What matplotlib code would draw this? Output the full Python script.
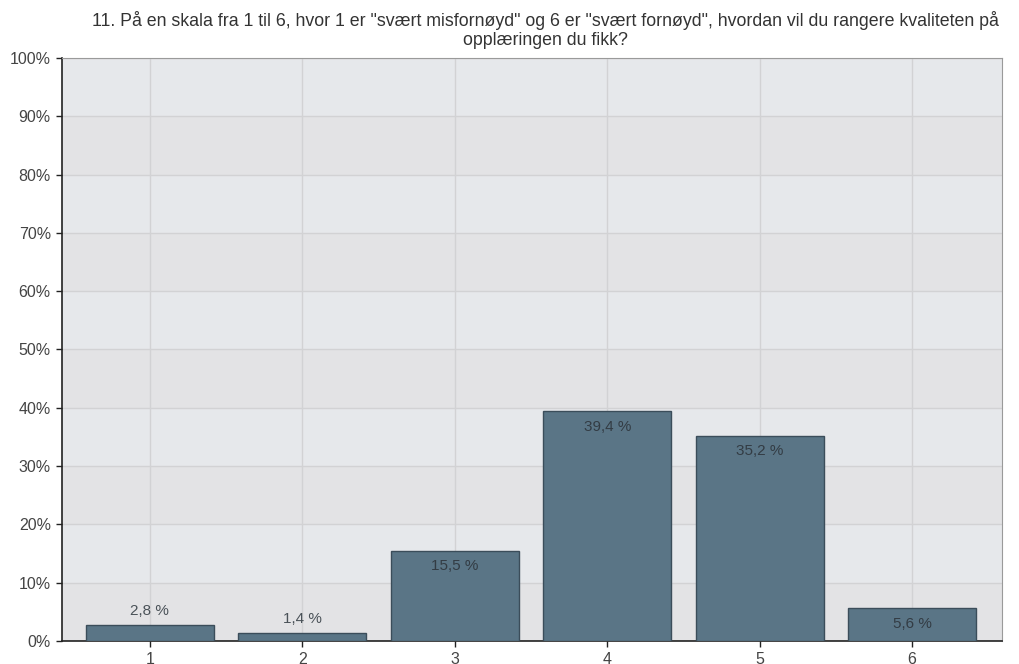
import matplotlib

matplotlib.use("Agg")

import matplotlib.pyplot as plt
from matplotlib.ticker import FuncFormatter, MultipleLocator

categories = ["1", "2", "3", "4", "5", "6"]
percent = [2.8, 1.4, 15.5, 39.4, 35.2, 5.6]
title = (
    '11. På en skala fra 1 til 6, hvor 1 er "svært misfornøyd" og 6 er '
    '"svært fornøyd", hvordan vil du rangere kvaliteten på\n'
    "opplæringen du fikk?"
)

plt.rcParams["font.family"] = ["Liberation Sans", "DejaVu Sans"]

fig = plt.figure(figsize=(10.19, 6.64), dpi=100, facecolor="white")
ax = fig.add_axes([0.0608, 0.0346, 0.9225, 0.8781])

# alternating background bands
ax.set_facecolor("#e6e8eb")
for lo in range(0, 100, 20):
    ax.axhspan(lo, lo + 10, color="#e3e3e5", zorder=0, lw=0)

x = list(range(1, len(categories) + 1))
bars = ax.bar(
    x, percent, width=0.84, color="#5a7586", edgecolor="#3b4d5a",
    linewidth=1.0, zorder=3,
)

for xi, v in zip(x, percent):
    label = f"{v:.1f}".replace(".", ",") + " %"
    if v >= 5:
        ax.annotate(label, (xi, v), xytext=(0, -6), textcoords="offset points",
                    ha="center", va="top", fontsize=11, color="#333c44", zorder=4)
    else:
        ax.annotate(label, (xi, v), xytext=(0, 5), textcoords="offset points",
                    ha="center", va="bottom", fontsize=11, color="#4a5258", zorder=4)

ax.set_xlim(0.423, 6.59)
ax.set_ylim(0, 100)
ax.set_xticks(x)
ax.set_xticklabels(categories)
ax.yaxis.set_major_locator(MultipleLocator(10))
ax.yaxis.set_major_formatter(FuncFormatter(lambda v, _: f"{v:.0f}%"))

ax.grid(True, color="#d2d2d4", linewidth=1.0, zorder=1)
ax.set_axisbelow(True)

for side in ("top", "right"):
    ax.spines[side].set_color("#9a9a9a")
    ax.spines[side].set_linewidth(0.8)
for side in ("left", "bottom"):
    ax.spines[side].set_color("#222222")
    ax.spines[side].set_linewidth(1.2)

ax.tick_params(axis="both", direction="out", length=4, width=1.0, color="#222222",
               labelsize=11.5, labelcolor="#444444")
ax.tick_params(axis="y", pad=4)
ax.tick_params(axis="x", pad=4)

fig.text(0.535, 0.983, title, ha="center", va="top", fontsize=12.8,
         color="#333333", linespacing=1.15)

fig.savefig("out.png", dpi=100, facecolor=fig.get_facecolor())
plt.close(fig)
